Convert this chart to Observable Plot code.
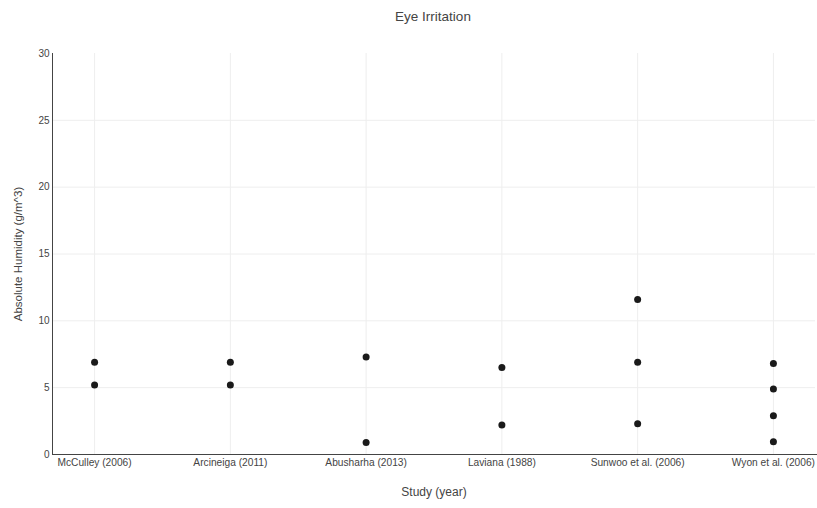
<!DOCTYPE html>
<html>
<head>
<meta charset="utf-8">
<script src="https://cdn.jsdelivr.net/npm/d3@7"></script>
<script src="https://cdn.jsdelivr.net/npm/@observablehq/plot@0.6"></script>
<style>
  html, body { margin: 0; padding: 0; background: #fff; }
  #wrap { position: relative; width: 817px; height: 508px; font-family: "Liberation Sans", Arial, sans-serif; }
  #title { position: absolute; left: 0; width: 866px; top: 9px; text-align: center; font-size: 13.5px; color: #444; }
  svg { display: block; }
</style>
</head>
<body>
<div id="wrap">
  <div id="title">Eye Irritation</div>
</div>
<script>
const studies = ["McCulley (2006)", "Arcineiga (2011)", "Abusharha (2013)", "Laviana (1988)", "Sunwoo et al. (2006)", "Wyon et al. (2006)"];
const humidityValues = [
  [6.9, 5.2],
  [6.9, 5.2],
  [7.3, 0.9],
  [6.5, 2.2],
  [11.6, 6.9, 2.3],
  [6.8, 4.9, 2.9, 0.95]
];
const yTicks = [0, 5, 10, 15, 20, 25, 30];

const rows = [];
studies.forEach((s, i) => humidityValues[i].forEach(v => rows.push({study: s, value: v})));

const chart = Plot.plot({
  width: 817,
  height: 508,
  marginTop: 53,
  marginBottom: 54,
  marginLeft: 52,
  marginRight: 2,
  style: { fontFamily: "Liberation Sans, Arial, sans-serif", fontSize: "10px", color: "#444", background: "#fff", overflow: "visible" },
  x: { type: "point", domain: studies, padding: 0.31, round: false, label: null },
  y: { domain: [0, 30], label: null },
  marks: [
    Plot.gridY(yTicks.filter(d => d > 0 && d < 30), { stroke: "#eee", strokeOpacity: 1 }),
    Plot.gridX({ stroke: "#eee", strokeOpacity: 1 }),
    Plot.frame({ anchor: "left", stroke: "#444" }),
    Plot.frame({ anchor: "bottom", stroke: "#444", dx: 1, insetRight: -2 }),
    Plot.axisY(yTicks, { tickSize: 0, tickPadding: 3, fill: "#444", fontSize: 10, label: null }),
    Plot.axisX({ tickSize: 0, tickPadding: 4, fill: "#444", fontSize: 10.2, label: null }),
    Plot.dot(rows, { x: "study", y: "value", r: 3.5, fill: "#1a1a1a", stroke: "none" }),
    Plot.text(["Absolute Humidity (g/m^3)"], { frameAnchor: "left", textAnchor: "middle", dx: -34, rotate: -90, fontSize: 11.5, fill: "#444" }),
    Plot.text(["Study (year)"], { frameAnchor: "bottom", dy: 41, fontSize: 12, fill: "#444" })
  ]
});
document.getElementById("wrap").appendChild(chart);
</script>
</body>
</html>
